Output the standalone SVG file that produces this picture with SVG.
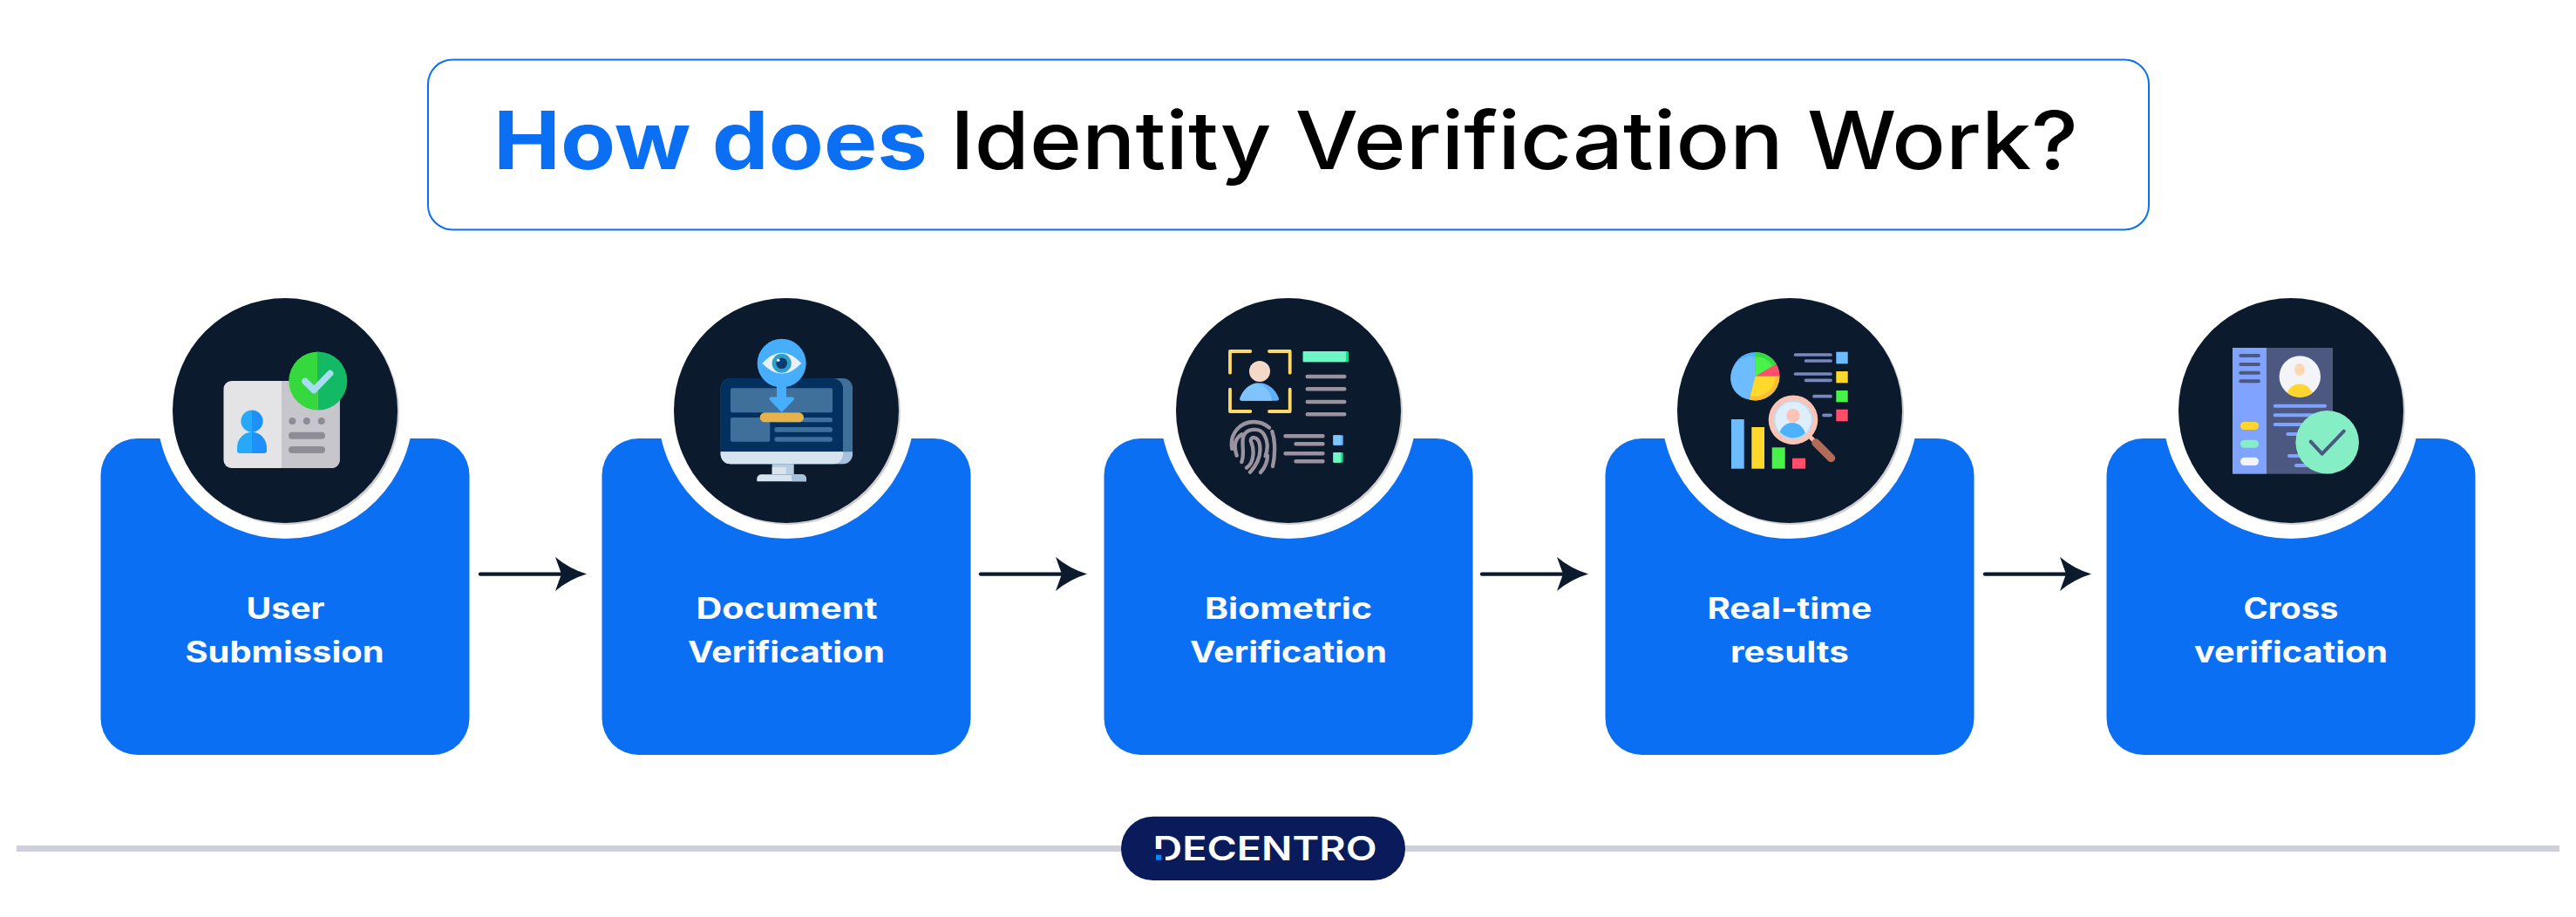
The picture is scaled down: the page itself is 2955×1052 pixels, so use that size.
<svg xmlns="http://www.w3.org/2000/svg" width="2955" height="1052" viewBox="0 0 2955 1052">
<style>
text{font-family:Inter,"Liberation Sans",sans-serif}
.panel{fill:#0b6ff4}
.ring{fill:#fff}
.shadow{fill:#cfcfcf}
.disc{fill:#0b1a2c}
.label{fill:#fff;font-size:33.500px;font-weight:700;text-anchor:middle}
.arrow{stroke:#0b1a2c;stroke-width:4.4;stroke-linecap:round;fill:none;marker-end:url(#head)}
.t{font-size:92px}
.pl{stroke:#9b92a0;stroke-width:4.4;stroke-linecap:round;fill:none}
.bl{stroke:#7a86bf;stroke-width:3.7;stroke-linecap:round;fill:none}
.cl{stroke:#7fa3ff;stroke-width:4;stroke-linecap:round;fill:none}
.dl{stroke:#4d5880;stroke-width:4;stroke-linecap:round;fill:none}
.sl{fill:#3f6f9b}
</style>
<defs>
<marker id="head" markerUnits="userSpaceOnUse" markerWidth="38" markerHeight="42" refX="7" refY="20" orient="auto">
<path d="M0 0.5Q16 14 36 20Q16 26 0 39.5L7 20Z" fill="#0b1a2c"/>
</marker>
<clipPath id="c5"><circle cx="2638.3" cy="432" r="23.7"/></clipPath>
<clipPath id="c4"><circle cx="2057" cy="481.7" r="20.7"/></clipPath>
</defs>
<rect width="2955" height="1052" fill="#fff"/>

<g id="title">
<rect x="491" y="68.5" width="1974" height="195" rx="28" fill="#fff" stroke="#0b6ff4" stroke-width="2"/>
<text class="t" x="566" y="194" fill="#0b6ff4" font-weight="700" textLength="498" lengthAdjust="spacingAndGlyphs">How does</text>
<text class="t" x="1090" y="194" fill="#000" font-weight="500" textLength="1294" lengthAdjust="spacingAndGlyphs">Identity Verification Work?</text>
</g>

<g id="connectors">
<line class="arrow" x1="551" y1="658.6" x2="644" y2="658.6"/>
<line class="arrow" x1="1125" y1="658.6" x2="1218" y2="658.6"/>
<line class="arrow" x1="1700" y1="658.6" x2="1793" y2="658.6"/>
<line class="arrow" x1="2277" y1="658.6" x2="2370" y2="658.6"/>
</g>

<g id="node-user-submission">
<rect class="panel" x="115.5" y="503" width="423" height="363" rx="42"/>
<circle class="ring" cx="327" cy="471" r="147"/>
<circle class="shadow" cx="329" cy="473" r="129"/>
<circle class="disc" cx="327" cy="471" r="129"/>
<rect x="256.5" y="437" width="133.2" height="100" rx="9" fill="#e4e4e6"/>
<path d="M323 437H380.700A9 9 0 0 1 389.700 446V528A9 9 0 0 1 380.700 537H323Z" fill="#c6c6cc"/>
<path d="M289 470.500a12.600 12.600 0 0 0 0 25.200ZM289 495.700c-9.500 0-17 8-17 18v3.300a3 3 0 0 0 3 3h14Z" fill="#27a9fb"/>
<path d="M289 470.500a12.600 12.600 0 0 1 0 25.200ZM289 495.700c9.500 0 17 8 17 18v3.300a3 3 0 0 1-3 3h-14Z" fill="#1e90fa"/>
<g fill="#8e8c96"><circle cx="335.400" cy="483" r="4"/><circle cx="351.800" cy="483" r="4"/><circle cx="368.700" cy="483" r="4"/><rect x="331" y="495.700" width="42" height="8" rx="4"/><rect x="331" y="512" width="42" height="8" rx="4"/></g>
<path d="M364.800 403.500a33.500 33.500 0 0 0 0 67Z" fill="#35d93d"/>
<path d="M364.800 403.500a33.500 33.500 0 0 1 0 67Z" fill="#12ba66"/>
<path d="M350 437.500L360.200 447.500L378.600 428.500" fill="none" stroke="#a8dcf2" stroke-width="7.500" stroke-linecap="round" stroke-linejoin="round"/>
<text class="label" x="327.500" y="709.500" textLength="90" lengthAdjust="spacingAndGlyphs">User</text>
<text class="label" x="326.500" y="759.500" textLength="228" lengthAdjust="spacingAndGlyphs">Submission</text>
</g>

<g id="node-document-verification">
<rect class="panel" x="690.500" y="503" width="423" height="363" rx="42"/>
<circle class="ring" cx="902" cy="471" r="147"/>
<circle class="shadow" cx="904" cy="473" r="129"/>
<circle class="disc" cx="902" cy="471" r="129"/>
<rect x="826.700" y="434" width="151.300" height="98.300" rx="11" fill="#3f6f9b"/>
<path d="M826.700 445a11 11 0 0 1 11-11H955a12 12 0 0 1 12 12V518.300H826.700Z" fill="#02305f"/>
<path d="M826.700 518.300H978V521.300a11 11 0 0 1-11 11H837.700a11 11 0 0 1-11-11Z" fill="#a6c1dc"/>
<path d="M826.700 518.300H967V521a11.300 11.300 0 0 1-11.300 11.300H837.700a11 11 0 0 1-11-11Z" fill="#d7e4f0"/>
<rect class="sl" x="838" y="445.300" width="117" height="28" rx="2"/>
<rect class="sl" x="838" y="479" width="45.300" height="27.700" rx="2"/>
<rect class="sl" x="888.300" y="479" width="66.700" height="5.300" rx="2.600"/>
<rect class="sl" x="888.300" y="490" width="66.700" height="5.700" rx="2.800"/>
<rect class="sl" x="888.300" y="501.300" width="66.700" height="5.400" rx="2.700"/>
<rect x="885.700" y="532.300" width="25" height="11.700" fill="#b8cfe3"/>
<rect x="885.700" y="536" width="16" height="8" fill="#d7e4f0"/>
<path d="M868.300 552.300v-3a5 5 0 0 1 5-5H920a5 5 0 0 1 5 5v3Z" fill="#d7e4f0"/>
<path d="M908 544.300H920a5 5 0 0 1 5 5v3H908Z" fill="#a6c1dc"/>
<rect x="871.700" y="473.300" width="50.300" height="11" rx="5.500" fill="#e8b24a"/>
<path d="M891 440H902V455.500H909a2 2 0 0 1 1.500 3.300L896.700 473.300L883 458.800a2 2 0 0 1 1.500-3.300H891Z" fill="#46aefc"/>
<circle cx="896.700" cy="416.700" r="28" fill="#46aefc"/>
<path d="M874.300 416.700Q896.700 393 919.300 416.700Q896.700 440.500 874.300 416.700Z" fill="#e8f1f8"/>
<circle cx="896.700" cy="416.700" r="11" fill="#2f9ec9"/>
<circle cx="896.700" cy="416.700" r="6.300" fill="#0b3a76"/>
<circle cx="892.800" cy="413.300" r="1.700" fill="#fff"/>
<text class="label" x="902.500" y="709.500" textLength="208" lengthAdjust="spacingAndGlyphs">Document</text>
<text class="label" x="902" y="759.500" textLength="226" lengthAdjust="spacingAndGlyphs">Verification</text>
</g>

<g id="node-biometric-verification">
<rect class="panel" x="1266.500" y="503" width="423" height="363" rx="42"/>
<circle class="ring" cx="1478" cy="471" r="147"/>
<circle class="shadow" cx="1480" cy="473" r="129"/>
<circle class="disc" cx="1478" cy="471" r="129"/>
<g fill="none" stroke="#ffd966" stroke-width="3.800" stroke-linecap="round" stroke-linejoin="round">
<path d="M1411 427.700V403H1434.300"/><path d="M1456 403H1479.700V427.700"/><path d="M1411 446.700V472H1434.300"/><path d="M1456 472H1479.700V446.700"/>
</g>
<circle cx="1445" cy="426" r="12" fill="#f5d9c8"/>
<path d="M1422.300 457a2.500 2.500 0 0 0 2.500 2.700H1464.500a2.500 2.500 0 0 0 2.500-2.700C1463 446 1454 439.300 1444.700 439.300S1426 446 1422.300 457Z" fill="#5fb0ff"/>
<path d="M1422.300 457a2.500 2.500 0 0 0 2.500 2.700H1459C1458 449 1450 441 1441 439.500C1433 441 1426 447 1422.300 457Z" fill="#80c4ff"/>
<rect x="1494.700" y="403" width="52.300" height="12.300" rx="1" fill="#16d68e"/>
<rect x="1494.700" y="403" width="49.300" height="12.300" rx="1" fill="#6ef7c4"/>
<g class="pl">
<path d="M1499.700 432H1542.300M1499.700 446.300H1542.300M1499.700 461H1542.300M1499.700 475.300H1542.300"/>
<path d="M1474.500 500.300H1517.500M1486.500 509.300H1517.500M1474.500 520.300H1517.500M1486.500 529.300H1517.500"/>
</g>
<g transform="translate(1330 330) scale(.3333)" fill="none" stroke="#9b92a0" stroke-width="13" stroke-linecap="round">
<path d="M250 555C240 500 280 462 325 462C345 462 362 468 378 482"/>
<path d="M388 495C400 530 398 580 390 615"/>
<path d="M266 578C255 545 258 520 283 505"/>
<path d="M283 600C295 570 280 530 290 510C300 485 345 480 360 505C375 530 372 560 365 580"/>
<path d="M300 620C330 600 325 550 315 530C310 510 340 510 345 540C350 570 345 600 312 635"/>
<path d="M348 636C362 620 372 600 372 578"/>
</g>
<rect x="1529.300" y="499.300" width="11.400" height="11.400" rx="1" fill="#5fb0ff"/>
<rect x="1529.300" y="499.300" width="9" height="11.400" rx="1" fill="#80c4ff"/>
<rect x="1529.300" y="519" width="11.400" height="11.700" rx="1" fill="#16d68e"/>
<rect x="1529.300" y="519" width="9" height="11.700" rx="1" fill="#6ef7c4"/>
<text class="label" x="1478" y="709.500" textLength="192" lengthAdjust="spacingAndGlyphs">Biometric</text>
<text class="label" x="1478" y="759.500" textLength="226" lengthAdjust="spacingAndGlyphs">Verification</text>
</g>

<g id="node-real-time-results">
<rect class="panel" x="1841.500" y="503" width="423" height="363" rx="42"/>
<circle class="ring" cx="2053" cy="471" r="147"/>
<circle class="shadow" cx="2055" cy="473" r="129"/>
<circle class="disc" cx="2053" cy="471" r="129"/>
<circle cx="2013.700" cy="431.700" r="27.700" fill="#4db1fb"/>
<path d="M2013.700 431.700L2006.700 458.500A23 23 0 0 1 2013.700 408.700Z" fill="#6dbcff"/>
<path d="M2013.700 431.700V404A27.700 27.700 0 0 1 2037.700 417.700Z" fill="#35d93d"/>
<path d="M2013.700 431.700V409A23 23 0 0 1 2033.500 420Z" fill="#48f248"/>
<path d="M2013.700 431.700L2037.700 417.700A27.700 27.700 0 0 1 2041.400 431.700Z" fill="#ff4d6a"/>
<path d="M2013.700 431.700H2041.400A27.700 27.700 0 0 1 2006.700 458.500Z" fill="#fbbf2e"/>
<path d="M2013.700 431.700H2036.500A23 23 0 0 1 2008 453.800Z" fill="#ffd82e"/>
<path class="bl" d="M2059.500 407H2100M2071.500 414H2100M2059.500 429H2100M2071.500 436.300H2100M2081 454.700H2100M2092 476.300H2100"/>
<rect x="2106.300" y="403.700" width="13.400" height="13.600" fill="#6dbcff"/>
<rect x="2106.300" y="426" width="13.400" height="13.300" fill="#ffd82e"/>
<rect x="2106.300" y="448" width="13.400" height="13.300" fill="#48f248"/>
<rect x="2106.300" y="469.700" width="13.400" height="13.600" fill="#ff4d6a"/>
<rect x="1986" y="481" width="14.700" height="56.700" fill="#6dbcff"/>
<rect x="2009.300" y="490" width="14.700" height="47.700" fill="#ffd82e"/>
<rect x="2032.700" y="513.300" width="15" height="24.400" fill="#48f248"/>
<rect x="2056" y="525.700" width="15" height="12" fill="#ff4d6a"/>
<path d="M2076 500.700L2085 509.700" stroke="#fcc4b4" stroke-width="5" fill="none"/>
<path d="M2083 508L2100.500 525.500" stroke="#b56a55" stroke-width="9.500" stroke-linecap="round" fill="none"/>
<circle cx="2057" cy="481.700" r="28.300" fill="#fcc4b4"/>
<circle cx="2057" cy="481.700" r="22.500" fill="#bcdcf8"/>
<circle cx="2057" cy="481.700" r="20.700" fill="#dfeefc"/>
<g clip-path="url(#c4)"><ellipse cx="2056" cy="502" rx="15.500" ry="17" fill="#4db1fb"/></g>
<circle cx="2057" cy="476.700" r="7.700" fill="#fcc4b4"/>
<text class="label" x="2053" y="709.500" textLength="189" lengthAdjust="spacingAndGlyphs">Real-time</text>
<text class="label" x="2053" y="759.500" textLength="136" lengthAdjust="spacingAndGlyphs">results</text>
</g>

<g id="node-cross-verification">
<rect class="panel" x="2416.500" y="503" width="423" height="363" rx="42"/>
<circle class="ring" cx="2628" cy="471" r="147"/>
<circle class="shadow" cx="2630" cy="473" r="129"/>
<circle class="disc" cx="2628" cy="471" r="129"/>
<rect x="2561" y="399" width="39" height="144.700" fill="#7fa3ff"/>
<rect x="2600" y="399" width="76" height="144.700" fill="#4d5880"/>
<path class="dl" d="M2570.300 408H2591M2570.300 418H2591M2570.300 427.700H2591M2570.300 437.300H2591"/>
<rect x="2570" y="484" width="21" height="9" rx="4.500" fill="#ffd52e"/>
<rect x="2570" y="504.700" width="21" height="9" rx="4.500" fill="#86eec4"/>
<rect x="2570" y="524.700" width="21" height="9.300" rx="4.600" fill="#f3f4f8"/>
<circle cx="2638.300" cy="432" r="23.700" fill="#f3f4f8"/>
<g clip-path="url(#c5)"><ellipse cx="2638" cy="458" rx="16" ry="17.500" fill="#ffd52e"/></g>
<ellipse cx="2638" cy="424" rx="6" ry="7" fill="#fcd7b4"/>
<path class="cl" d="M2609.700 465.700H2667M2609.700 476.300H2660M2609.700 487H2660M2624.300 498H2660M2626 523H2660M2634 534H2660"/>
<circle cx="2669.700" cy="507.300" r="36.300" fill="#86eec4"/>
<path d="M2650.700 506.700L2663.700 520.700L2688.700 494.700" fill="none" stroke="#4d5880" stroke-width="4" stroke-linecap="round" stroke-linejoin="round"/>
<text class="label" x="2628" y="709.500" textLength="109" lengthAdjust="spacingAndGlyphs">Cross</text>
<text class="label" x="2628" y="759.500" textLength="222" lengthAdjust="spacingAndGlyphs">verification</text>
</g>

<g id="footer">
<rect x="19" y="970" width="2917" height="7" fill="#cfcfdb"/>
<rect x="1286" y="936.700" width="326" height="73.300" rx="36.600" fill="#0a1b5c"/>
<text x="1322.500" y="986.700" fill="#fff" font-size="37.700" font-weight="600" textLength="257" lengthAdjust="spacingAndGlyphs">DECENTRO</text>
<rect x="1325" y="974" width="12" height="14" fill="#0a1b5c"/>
<rect x="1326" y="980.700" width="6.300" height="6" fill="#0a84ff"/>
</g>
</svg>
